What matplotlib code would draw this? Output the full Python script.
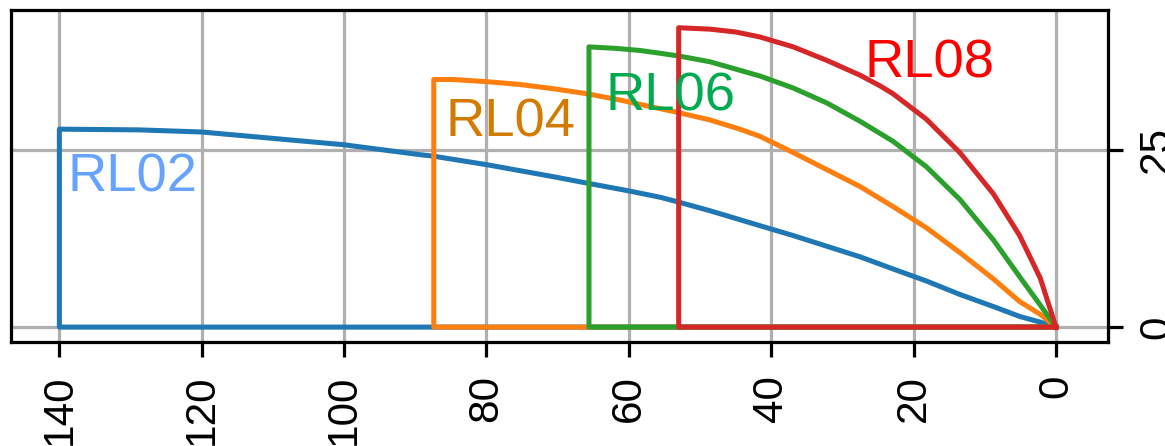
import matplotlib
matplotlib.use("Agg")
import matplotlib.pyplot as plt

plt.rcParams["font.family"] = ["Liberation Sans", "DejaVu Sans"]

# curve points, each from the tall end down to 0
rl02_x = [140, 128.8, 120, 110, 100, 89.3, 87.5, 80, 70.6, 65.9, 60, 55.6, 53.3, 48.6,
          41.6, 36.9, 32.2, 27.5, 22.9, 18.2, 13.5, 8.8, 5.1, 2.2, 0]
rl02_y = [27.9, 27.8, 27.5, 26.6, 25.7, 24.3, 24.1, 22.9, 21.2, 20.3, 19.2, 18.3, 17.7, 16.4,
          14.3, 12.9, 11.4, 9.9, 8.2, 6.5, 4.6, 2.9, 1.5, 0.7, 0]

rl04_x = [87.4, 84.7, 80, 75.3, 70.6, 65.9, 61.2, 56.6, 53.3, 48.6, 44.4, 41.6, 36.9,
          32.2, 27.5, 22.9, 18.2, 13.5, 8.8, 5.1, 2.2, 0]
rl04_y = [34.9, 34.9, 34.6, 34.2, 33.6, 32.9, 32.0, 31.0, 30.3, 29.2, 27.9, 26.9, 24.6,
          22.2, 19.8, 17.0, 14.0, 10.5, 6.8, 3.6, 1.8, 0]

rl06_x = [65.6, 62, 58.5, 55.6, 52.9, 48.6, 44.4, 41.6, 36.9, 32.2, 27.5, 22.9, 18.2,
          13.5, 8.8, 5.1, 2.2, 0]
rl06_y = [39.5, 39.3, 39.0, 38.6, 38.2, 37.4, 36.2, 35.4, 33.7, 31.6, 29.0, 26.2, 22.6,
          18.0, 12.3, 7.1, 3.1, 0]

rl08_x = [53.0, 48.6, 45, 41.6, 36.9, 32.2, 27.5, 24.7, 22.9, 18.2, 13.5, 8.8, 5.1, 2.2, 0]
rl08_y = [42.2, 42.0, 41.6, 40.9, 39.5, 37.6, 35.5, 34.0, 32.9, 29.3, 24.6, 18.8, 12.9, 6.9, 0]

names = ["RL02", "RL04", "RL06", "RL08"]
label_col = ["#66a3ff", "#d27b00", "#00aa4f", "#ff0000"]
label_pos = [(129.7, 19.1), (76.6, 26.9), (54.1, 30.6), (17.7, 35.2)]

fig = plt.figure(figsize=(1165 / 290, 446 / 290), dpi=290)
ax = fig.add_axes([0.0094, 0.234, 0.9416, 0.7436])

curves = [(rl02_x, rl02_y), (rl04_x, rl04_y), (rl06_x, rl06_y), (rl08_x, rl08_y)]
for (cx, cy) in curves:
    # closed outline: along the base, up the side, back down the curve
    ax.plot([0, cx[0]] + cx, [0, 0] + cy, lw=1.25)

for n, c, (tx, ty) in zip(names, label_col, label_pos):
    ax.text(tx, ty, n, color=c, fontsize=13.5, ha="center", va="baseline")

ax.set_xlim(146.8, -7.3)
ax.set_ylim(-2.05, 44.7)
ax.set_xticks([0, 20, 40, 60, 80, 100, 120, 140])
ax.set_yticks([0, 25])
ax.yaxis.tick_right()
ax.tick_params(axis="both", labelsize=10.5, length=3.7)
ax.tick_params(axis="x", labelrotation=90, pad=4.5)
ax.tick_params(axis="y", labelrotation=90, pad=3.5)
for t in ax.get_yticklabels():
    t.set_va("center")
ax.grid(True)

fig.savefig("out.png", dpi=290)
